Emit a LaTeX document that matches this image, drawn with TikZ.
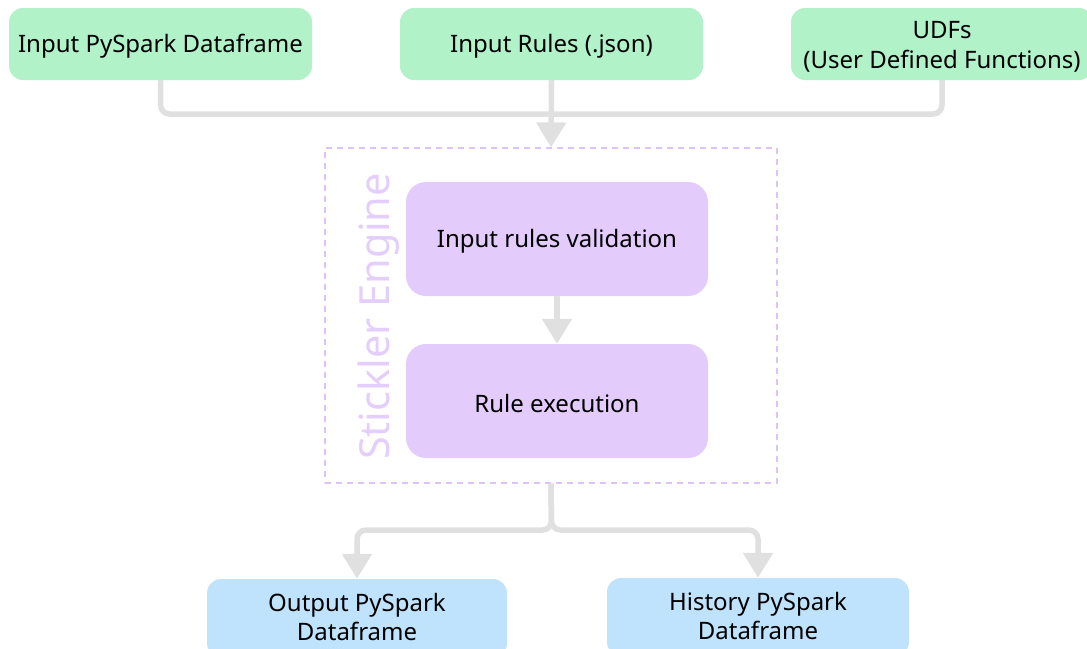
\documentclass[tikz,border=0pt]{standalone}
\usepackage{fontspec}
\setmainfont{Noto Sans}
\usetikzlibrary{arrows.meta}
\definecolor{greenbox}{HTML}{B1F2C9}
\definecolor{purplebox}{HTML}{E3CBFB}
\definecolor{bluebox}{HTML}{BFE3FC}
\definecolor{linegray}{HTML}{E0E0E0}
\definecolor{dashpurple}{HTML}{DCC3F9}
\definecolor{enginetext}{HTML}{E4CEFB}
\tikzset{
  lbl/.style={font=\fontsize{24}{30}\selectfont, text=black, align=center, inner sep=0pt},
  box/.style={lbl, rounded corners=14pt, minimum height=72pt},
  inbox/.style={box, fill=greenbox},
  outbox/.style={box, fill=bluebox},
  stagebox/.style={box, fill=purplebox, rounded corners=20pt, minimum width=302pt, minimum height=114pt},
  conn/.style={draw=linegray, line width=5.5pt},
  tipconn/.style={conn, -{Triangle[length=25pt, width=29pt]}},
  enginebox/.style={draw=dashpurple, line width=1.2pt, dash pattern=on 6pt off 5pt, minimum width=452pt, minimum height=335pt, inner sep=0pt}
}
\begin{document}
\begin{tikzpicture}[x=1pt, y=-1pt]
\useasboundingbox (0,0) rectangle (1087,648);
% engine container
\node[enginebox] (eng) at (551,315.5) {};
\node[rotate=90, text=enginetext, font=\fontsize{41.5}{44}\selectfont, inner sep=0pt] (engtxt) at (379,316.5) {Stickler Engine};
% inputs
\node[inbox, minimum width=303pt] (in1) at (160.5,44) {};
\node[inbox, minimum width=303pt] (in2) at (551.5,44) {};
\node[inbox, minimum width=302pt] (in3) at (942,44) {};
\node[lbl] (in1txt) at (160.5,46) {Input PySpark Dataframe};
\node[lbl] (in2txt) at (551.5,46) {Input Rules (.json)};
\node[lbl] (in3txt) at (942,47) {UDFs\\(User Defined Functions)};
% stages
\node[stagebox] (v1) at (557,239) {};
\node[stagebox] (v2) at (557,401) {};
\node[lbl] (v1txt) at (557,241) {Input rules validation};
\node[lbl] (v2txt) at (557,403) {Rule execution};
% outputs
\node[outbox, minimum width=300pt, minimum height=78pt] (out) at (357,618) {};
\node[outbox, minimum width=302pt, minimum height=78pt] (hist) at (758,617) {};
\node[lbl, font=\fontsize{24}{29.5}\selectfont] (outtxt) at (357,617) {Output PySpark\\Dataframe};
\node[lbl, font=\fontsize{24}{29.5}\selectfont] (histtxt) at (758,616) {History PySpark\\Dataframe};
% connectors
\coordinate (j1) at (551.5,114);
\coordinate (j2) at (551.5,530);
\draw[conn, rounded corners=9pt] (in1.south) |- (j1);
\draw[conn, rounded corners=9pt] (in3.south) |- (j1);
\draw[tipconn] (in2.south) -- (eng.north);
\draw[tipconn] (v1.south) -- (v2.north);
\draw[tipconn, rounded corners=9pt] (eng.south) -- (j2) -| (out.north);
\draw[tipconn, rounded corners=9pt] (eng.south) -- (j2) -| (hist.north);
\end{tikzpicture}
\end{document}
